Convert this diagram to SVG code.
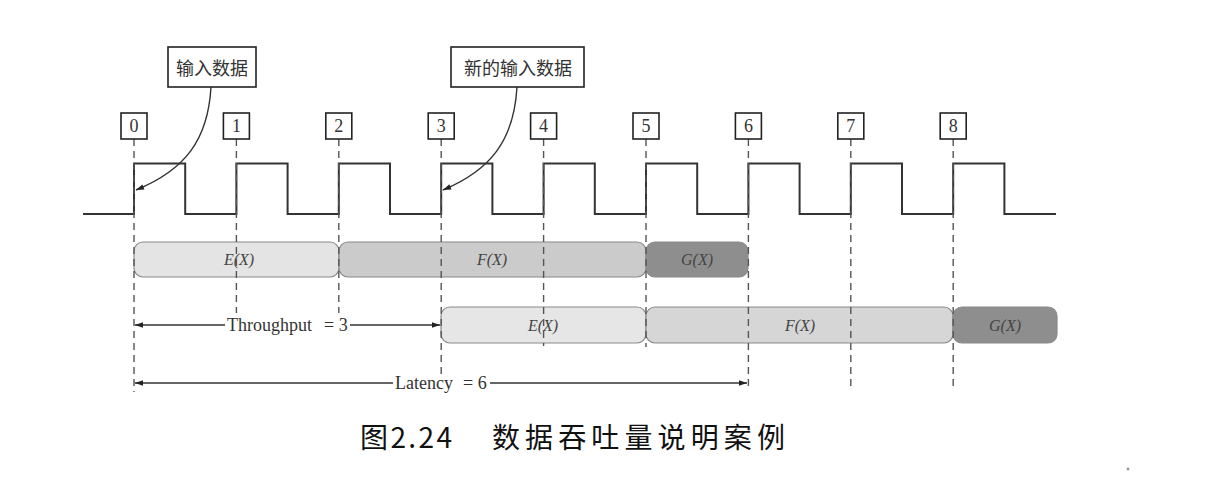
<svg xmlns="http://www.w3.org/2000/svg" width="1208" height="482" viewBox="0 0 1208 482">
<style>
.box{fill:#fff;stroke:#222;stroke-width:1.6}
.num{font-family:"Liberation Serif",serif;font-size:18px;fill:#333;text-anchor:middle}
.cjk{font-family:"Noto Sans CJK SC",sans-serif;font-size:18px;fill:#333;text-anchor:middle}
.dash{stroke:#555;stroke-width:1.4;stroke-dasharray:7 5;fill:none}
.wave{stroke:#333;stroke-width:2;fill:none}
.bar{stroke:#8a8a8a;stroke-width:1.2}
.lbl{font-family:"Liberation Serif",serif;font-size:16px;font-style:italic;fill:#444;text-anchor:middle}
.dim{font-family:"Liberation Serif",serif;font-size:18px;fill:#333}
.ln{stroke:#333;stroke-width:1.4;fill:none}
.cap{font-family:"Noto Sans CJK SC",sans-serif;font-size:28px;fill:#111}
</style>
<defs>
<marker id="ah" viewBox="0 0 10 10" refX="10" refY="5" markerWidth="10" markerHeight="8" markerUnits="userSpaceOnUse" orient="auto-start-reverse">
<path d="M0,1.5 L10,5 L0,8.5 Z" fill="#222"/>
</marker>
</defs>
<rect width="1208" height="482" fill="#fff"/>

<!-- clock waveform -->
<path class="wave" d="M83,214 H134 V163.5 H185.2 V214 H236.4 V163.5 H287.6 V214 H338.8 V163.5 H390 V214 H441.2 V163.5 H492.4 V214 H543.6 V163.5 H594.8 V214 H646 V163.5 H697.2 V214 H748.4 V163.5 H799.6 V214 H850.8 V163.5 H902 V214 H953.2 V163.5 H1004.4 V214 H1056"/>

<!-- bars row 1 -->
<g id="row1">
<rect class="bar" x="134" y="242" width="205" height="35" rx="9" fill="#e4e4e4"/>
<rect class="bar" x="339" y="242" width="307" height="35" rx="9" fill="#cbcbcb"/>
<rect class="bar" x="646" y="242" width="102" height="35" rx="9" fill="#8e8e8e" stroke="#707070"/>
<text class="lbl" x="239" y="265">E(X)</text>
<text class="lbl" x="492" y="265">F(X)</text>
<text class="lbl" x="697" y="265">G(X)</text>
</g>
<!-- bars row 2 -->
<g id="row2">
<rect class="bar" x="441" y="307" width="205" height="36" rx="9" fill="#e6e6e6"/>
<rect class="bar" x="646" y="307" width="307" height="36" rx="9" fill="#d6d6d6"/>
<rect class="bar" x="953" y="307" width="104" height="36" rx="9" fill="#8e8e8e" stroke="#707070"/>
<text class="lbl" x="543" y="331">E(X)</text>
<text class="lbl" x="800" y="331">F(X)</text>
<text class="lbl" x="1005" y="331">G(X)</text>
</g>

<!-- connectors -->
<g id="connectors">
<line class="dash" x1="134" y1="139" x2="134" y2="392"/>
<line class="dash" x1="236.4" y1="139" x2="236.4" y2="313"/>
<line class="dash" x1="338.8" y1="139" x2="338.8" y2="313"/>
<line class="dash" x1="441.2" y1="139" x2="441.2" y2="376"/>
<line class="dash" x1="543.6" y1="139" x2="543.6" y2="346"/>
<line class="dash" x1="646" y1="139" x2="646" y2="347"/>
<line class="dash" x1="748.4" y1="139" x2="748.4" y2="390"/>
<line class="dash" x1="850.8" y1="139" x2="850.8" y2="386"/>
<line class="dash" x1="953.2" y1="139" x2="953.2" y2="386"/>
<path class="ln" d="M211,87 C208,140 185,170 136,190" marker-end="url(#ah)"/>
<path class="ln" d="M517,87 C514,140 491,170 443,190" marker-end="url(#ah)"/>
<line class="ln" x1="225" y1="325" x2="135" y2="325" marker-end="url(#ah)"/>
<line class="ln" x1="350" y1="325" x2="440" y2="325" marker-end="url(#ah)"/>
<line class="ln" x1="393" y1="383" x2="135" y2="383" marker-end="url(#ah)"/>
<line class="ln" x1="490" y1="383" x2="747" y2="383" marker-end="url(#ah)"/>
</g>

<!-- callouts -->
<g id="callout-input">
<rect class="box" x="168" y="47" width="88" height="40"/>
<text class="cjk" x="212" y="75">输入数据</text>
</g>
<g id="callout-newinput">
<rect class="box" x="451" y="47" width="133" height="40"/>
<text class="cjk" x="518" y="75">新的输入数据</text>
</g>

<!-- tick labels -->
<g id="t0"><rect class="box" x="121" y="113" width="26" height="26"/><text class="num" x="134" y="132">0</text></g>
<g id="t1"><rect class="box" x="223.4" y="113" width="26" height="26"/><text class="num" x="236.4" y="132">1</text></g>
<g id="t2"><rect class="box" x="325.8" y="113" width="26" height="26"/><text class="num" x="338.8" y="132">2</text></g>
<g id="t3"><rect class="box" x="428.2" y="113" width="26" height="26"/><text class="num" x="441.2" y="132">3</text></g>
<g id="t4"><rect class="box" x="530.6" y="113" width="26" height="26"/><text class="num" x="543.6" y="132">4</text></g>
<g id="t5"><rect class="box" x="633" y="113" width="26" height="26"/><text class="num" x="646" y="132">5</text></g>
<g id="t6"><rect class="box" x="735.4" y="113" width="26" height="26"/><text class="num" x="748.4" y="132">6</text></g>
<g id="t7"><rect class="box" x="837.8" y="113" width="26" height="26"/><text class="num" x="850.8" y="132">7</text></g>
<g id="t8"><rect class="box" x="940.2" y="113" width="26" height="26"/><text class="num" x="953.2" y="132">8</text></g>

<!-- dimension labels -->
<text class="dim" x="227" y="331">Throughput</text>
<text class="dim" x="324" y="331">= 3</text>
<text class="dim" x="395" y="389">Latency</text>
<text class="dim" x="463" y="389">= 6</text>

<!-- caption -->
<text class="cap" x="360" y="448" textLength="92" lengthAdjust="spacing">图2.24</text>
<text class="cap" x="492" y="448" textLength="293" lengthAdjust="spacing">数据吞吐量说明案例</text>
<circle cx="1128" cy="469" r="1.4" fill="#999"/>
</svg>
